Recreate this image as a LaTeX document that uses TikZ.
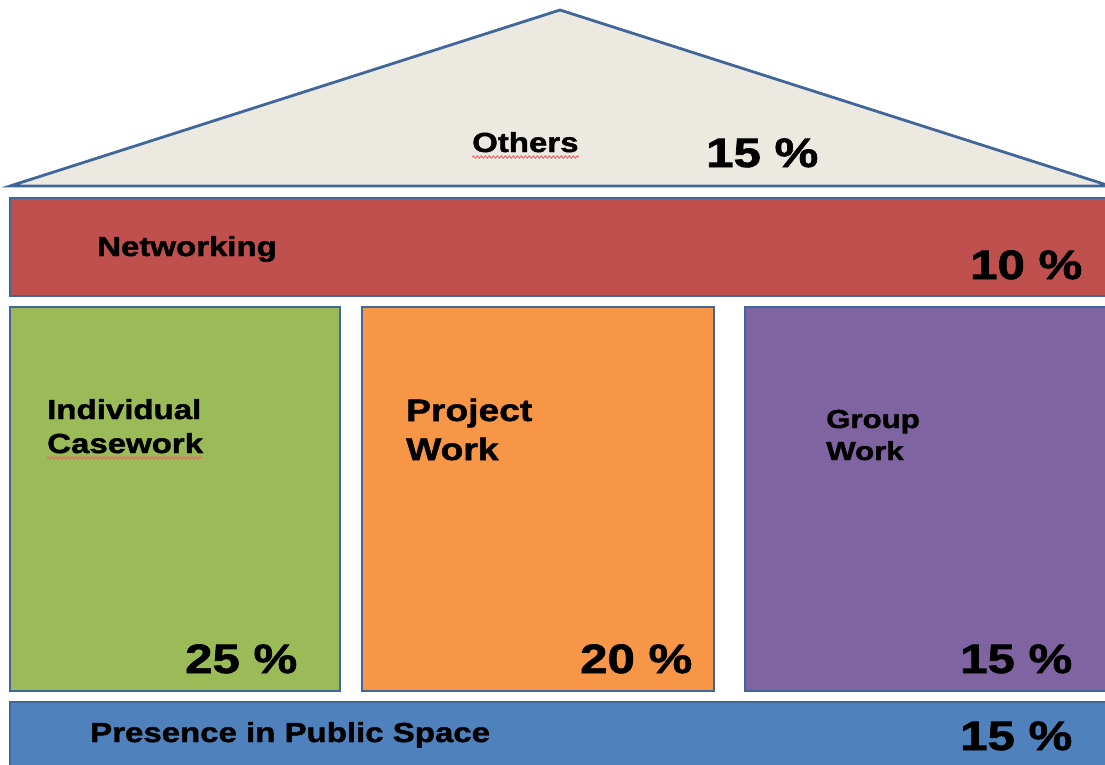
\documentclass[tikz,border=0pt]{standalone}
\usepackage{fontspec}
\newfontfamily\hf{Liberation Sans}[FakeStretch=1.2, FakeBold=1.6]
\usetikzlibrary{decorations.pathmorphing}
\definecolor{edge}{HTML}{41679A}
\definecolor{roof}{HTML}{ECEAE0}
\definecolor{netred}{HTML}{C0504D}
\definecolor{green1}{HTML}{9BBB59}
\definecolor{orange1}{HTML}{F79646}
\definecolor{purple1}{HTML}{8064A2}
\definecolor{blue1}{HTML}{4F81BD}
\definecolor{squigred}{HTML}{E86A6A}
\begin{document}
\begin{tikzpicture}[x=1pt,y=-1pt,
  part/.style={draw=edge, line width=2.8pt, line join=miter},
  lbl/.style={anchor=base west, inner sep=0pt, font=\hf\bfseries\fontsize{27.5}{30}\selectfont},
  pct/.style={anchor=base west, inner sep=0pt, font=\hf\bfseries\fontsize{41}{45}\selectfont},
  squig/.style={draw=squigred, line width=1pt, decorate,
    decoration={snake, amplitude=1.2pt, segment length=4pt}}]
\useasboundingbox (0,0) rectangle (1105,765);
\clip (0,0) rectangle (1105,765);
% roof
\draw[part, fill=roof] (10,186) -- (560,10) -- (1110,186) -- cycle;
% networking bar
\draw[part, fill=netred] (10,198) rectangle (1112,296);
% pillars
\draw[part, fill=green1] (10,307) rectangle (340,691);
\draw[part, fill=orange1] (362,307) rectangle (714,691);
\draw[part, fill=purple1] (745,307) rectangle (1112,691);
% base
\draw[part, fill=blue1] (10,702) rectangle (1112,775);
% texts
\node[lbl] (oth) at (472,152) {Others};
\node[pct] (othp) at (706,167) {15 \%};
\node[lbl] (net) at (97,256) {Networking};
\node[pct] (netp) at (970,279) {10 \%};
\node[lbl] (ind1) at (47,419) {Individual};
\node[lbl] (ind2) at (47,453) {Casework};
\node[lbl, font=\hf\bfseries\fontsize{31}{34}\selectfont] (prj1) at (406,421) {Project};
\node[lbl, font=\hf\bfseries\fontsize{31}{34}\selectfont] (prj2) at (406,460) {Work};
\node[lbl, font=\hf\bfseries\fontsize{26}{30}\selectfont] (grp1) at (826,428) {Group};
\node[lbl, font=\hf\bfseries\fontsize{26}{30}\selectfont] (grp2) at (826,460) {Work};
\node[pct] (indp) at (185,673) {25 \%};
\node[pct] (prjp) at (580,673) {20 \%};
\node[pct] (grpp) at (960,673) {15 \%};
\node[lbl] (pub) at (90,742) {Presence in Public Space};
\node[pct] (pubp) at (960,750) {15 \%};
% spell-check underlines
\draw[squig] ([yshift=-5pt]oth.base west) -- ([yshift=-5pt]oth.base east);
\draw[squig] ([yshift=-5pt]ind2.base west) -- ([yshift=-5pt]ind2.base east);
\end{tikzpicture}
\end{document}
